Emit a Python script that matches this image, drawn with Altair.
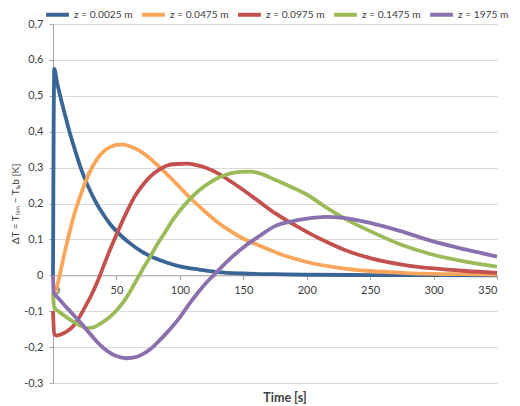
import altair as alt
import pandas as pd

# ---- data ----
series_names = ["z = 0.0025 m", "z = 0.0475 m", "z = 0.0975 m", "z = 0.1475 m", "z = 1975 m"]
series_colors = ["#3A6595", "#F9A65A", "#C3514E", "#9BBB59", "#8B70AE"]

t_blue = [0, 1, 3, 6, 10, 13, 17, 21.5, 25, 30, 35, 40, 45, 50, 55, 60, 70, 80, 90, 100, 115, 130,
          150, 175, 200, 250, 300, 350]
y_blue = [0, 0.575, 0.54, 0.495, 0.44, 0.4, 0.353, 0.303, 0.27, 0.23, 0.196, 0.168, 0.143, 0.123,
          0.106, 0.091, 0.066, 0.048, 0.035, 0.025, 0.016, 0.009, 0.005, 0.003, 0.0015, 0.0007,
          0.0003, 0.0002]

t_orange = [0, 2, 5, 8, 11, 14, 17, 20, 25, 30, 35, 40, 45, 50, 55, 60, 70, 77, 85, 90, 100, 108, 120,
            129, 140, 148, 163, 180, 200, 225, 250, 275, 300, 325, 350]
y_orange = [-0.065, -0.045, -0.005, 0.045, 0.09, 0.133, 0.172, 0.205, 0.255, 0.295, 0.325, 0.345,
            0.357, 0.363, 0.364, 0.36, 0.343, 0.324, 0.298, 0.281, 0.245, 0.216, 0.177, 0.15, 0.123,
            0.106, 0.082, 0.058, 0.037, 0.021, 0.012, 0.007, 0.004, 0.003, 0.002]

t_red = [0, 1, 3, 6, 10, 15, 19, 25, 30, 35, 40, 45, 50, 55, 60, 64, 70, 77, 85, 90, 97, 105, 113, 121,
         130, 142, 153, 163, 175, 189, 200, 215, 229, 250, 275, 300, 325, 350]
y_red = [-0.1, -0.163, -0.168, -0.165, -0.158, -0.145, -0.127, -0.09, -0.057, -0.018, 0.027, 0.072,
         0.113, 0.153, 0.19, 0.217, 0.248, 0.276, 0.297, 0.306, 0.31, 0.311, 0.307, 0.299, 0.284, 0.257,
         0.23, 0.204, 0.173, 0.143, 0.121, 0.094, 0.072, 0.048, 0.03, 0.019, 0.012, 0.007]

t_green = [0, 1, 5, 10, 15, 20, 27, 32, 38, 44, 50, 55, 60, 64, 68, 72, 77, 82, 88, 95, 103, 110, 116,
           123, 130, 140, 148, 156, 163, 175, 189, 200, 215, 229, 250, 274, 299, 325, 350]
y_green = [-0.05, -0.09, -0.102, -0.115, -0.127, -0.137, -0.147, -0.145, -0.133, -0.118, -0.098, -0.077,
           -0.05, -0.025, 0.0, 0.025, 0.054, 0.085, 0.118, 0.157, 0.193, 0.22, 0.239, 0.257, 0.271,
           0.284, 0.288, 0.289, 0.284, 0.266, 0.244, 0.225, 0.19, 0.16, 0.123, 0.086, 0.058, 0.038, 0.024]

t_purple = [0, 0.5, 4, 8, 15, 21.5, 28, 34.6, 40, 45, 50, 58, 65, 70, 76.6, 83, 90, 100, 108, 115,
            121, 126.5, 134, 142, 152, 163, 175, 189.5, 200, 215, 229, 250, 274, 299, 325, 350]
y_purple = [0, -0.048, -0.063, -0.079, -0.106, -0.131, -0.158, -0.185, -0.203, -0.216, -0.225, -0.231,
            -0.228, -0.221, -0.206, -0.185, -0.159, -0.117, -0.077, -0.045, -0.02, 0, 0.027, 0.054,
            0.083, 0.11, 0.137, 0.151, 0.158, 0.163, 0.16, 0.146, 0.123, 0.095, 0.072, 0.052]

x_ticks = [0, 50, 100, 150, 200, 250, 300, 350]
y_ticks = [-0.3, -0.2, -0.1, 0, 0.1, 0.2, 0.3, 0.4, 0.5, 0.6, 0.7]

ts = [t_blue, t_orange, t_red, t_green, t_purple]
ys = [y_blue, y_orange, y_red, y_green, y_purple]
rows = []
for name, tt, yy in zip(series_names, ts, ys):
    for a, b in zip(tt, yy):
        rows.append({"t": a, "dT": b, "series": name})
df = pd.DataFrame(rows)

FONT = "Lato"
TXT = "#404040"
W, H = 444, 359
y_min, y_max = -0.3, 0.7

chart = alt.Chart(df).mark_line(strokeWidth=3.8, interpolate="monotone").encode(
    x=alt.X("t:Q",
            scale=alt.Scale(domain=[0, 350], nice=False, zero=False),
            axis=alt.Axis(values=x_ticks, title=None, grid=False,
                          offset=-(H * (0 - y_min) / (y_max - y_min)),
                          domainColor="#A6A6A6", tickColor="#A6A6A6", tickSize=4,
                          labelPadding=5, labelFont=FONT, labelFontSize=11, labelColor=TXT,
                          zindex=0)),
    y=alt.Y("dT:Q",
            scale=alt.Scale(domain=[y_min, y_max], nice=False, zero=False),
            axis=alt.Axis(values=y_ticks, title="ΔT = Tₗᵢₘ − Tₜₐb [K]",
                          labelExpr="datum.value == 0 ? '0' : (datum.value < 0 ? '-' : '') + replace(format(abs(datum.value), '.1f'), '.', ',')",
                          grid=True, gridColor="#D9D9D9", gridWidth=1,
                          domainColor="#A6A6A6", tickColor="#A6A6A6", tickSize=4,
                          labelPadding=6, labelFont=FONT, labelFontSize=11, labelColor=TXT,
                          titleFont=FONT, titleFontSize=10, titleFontWeight="normal",
                          titleColor=TXT, titlePadding=3, zindex=0)),
    color=alt.Color("series:N",
                    scale=alt.Scale(domain=series_names, range=series_colors),
                    legend=alt.Legend(title=None, orient="none", direction="horizontal",
                                      legendX=-9, legendY=-23,
                                      symbolType="stroke", symbolStrokeWidth=4, symbolSize=520,
                                      labelFont=FONT, labelFontSize=10.2, labelColor=TXT,
                                      labelOffset=3, columnPadding=1)),
).properties(
    width=W, height=H,
    autosize=alt.AutoSizeParams(type="none"),
    padding={"left": 45, "top": 16, "right": 15, "bottom": 23},
    title=alt.TitleParams("Time [s]", orient="bottom", anchor="middle", dx=10, offset=4,
                          font=FONT, fontSize=12.5, fontWeight="bold", color=TXT),
).configure_view(stroke=None)

chart.save("out.html", embed_options={"renderer": "svg", "actions": False})
